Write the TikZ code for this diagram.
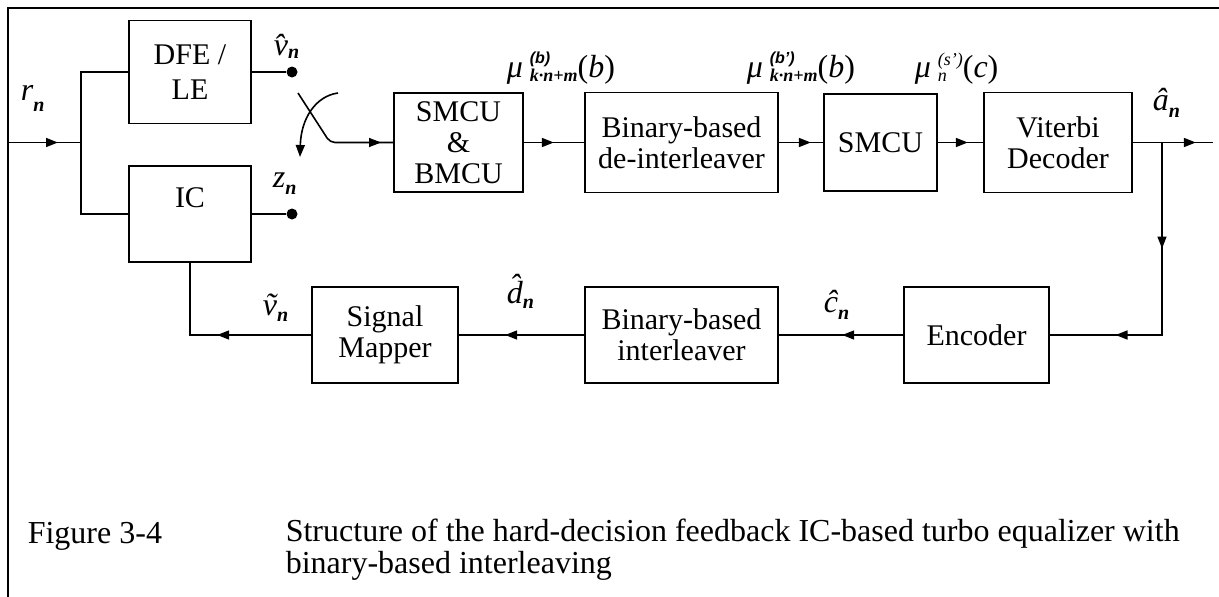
\documentclass[tikz,border=0pt]{standalone}
\usepackage{fontspec}
\setmainfont{Liberation Serif}
\setsansfont{Liberation Sans}
\usetikzlibrary{arrows.meta,decorations.markings}
\newcommand{\subn}[2][8pt]{\raisebox{-#1}{\fontsize{20}{20}\selectfont\bfseries\itshape #2}}
\newcommand{\labfont}{\fontsize{32}{32}\selectfont\itshape}
\newcommand{\smallsf}{\fontsize{16}{16}\selectfont\sffamily\bfseries}
\newcommand{\smallbi}{\fontsize{18}{18}\selectfont\bfseries\itshape}
\newcommand{\smalli}{\fontsize{18}{18}\selectfont\itshape}
\tikzset{
  blk/.style={draw, line width=1.6pt, inner sep=0pt, align=center, font=\fontsize{30}{31}\selectfont},
  lbl/.style={anchor=base west, inner sep=0pt, font=\labfont},
  captxt/.style={anchor=base west, inner sep=0pt, font=\fontsize{32}{32}\selectfont},
  dotnode/.style={circle, fill, inner sep=0pt, minimum size=11pt},
  tipA/.tip={Triangle[length=12pt,width=9pt]},
  mk/.style={postaction={decorate},decoration={markings,mark=at position #1 with {\arrow{tipA}}}},
  mktwo/.style 2 args={postaction={decorate},decoration={markings,
     mark=at position #1 with {\arrow{tipA}},
     mark=at position #2 with {\arrow{tipA}}}}
}
\begin{document}
\begin{tikzpicture}[x=1pt,y=-1pt,line width=1.6pt]
\useasboundingbox (0,0) rectangle (1219,597);
% frame
\draw[line width=2.2pt] (8,597) -- (8,8) -- (1219,8);

% blocks
\node[blk,minimum width=122pt,minimum height=103pt,font=\fontsize{30}{35}\selectfont] (dfe) at (190,72) {DFE /\\LE};
\node[blk,minimum width=122pt,minimum height=96pt] (ic) at (190,214) {};
\node[inner sep=0pt,font=\fontsize{30}{32}\selectfont] (iclbl) at (190,198) {IC};
\node[blk,minimum width=129pt,minimum height=99pt] (smcu1) at (458.5,142.5) {SMCU\\\&\\BMCU};
\node[blk,minimum width=193pt,minimum height=100pt] (deint) at (681.5,142.5) {Binary-based\\de-interleaver};
\node[blk,minimum width=113pt,minimum height=97pt] (smcu2) at (880.5,142.5) {SMCU};
\node[blk,minimum width=148pt,minimum height=100pt] (vit) at (1058,142.5) {Viterbi\\Decoder};
\node[blk,minimum width=146pt,minimum height=96pt] (map) at (385,335) {Signal\\Mapper};
\node[blk,minimum width=193pt,minimum height=96pt] (intl) at (681.5,335) {Binary-based\\interleaver};
\node[blk,minimum width=145pt,minimum height=96pt] (enc) at (976.5,335) {Encoder};

% dots and coordinates
\node[dotnode] (dv) at (292,72) {};
\node[dotnode] (dz) at (292,214) {};
\coordinate (in) at (8,142.5);
\coordinate (j1) at (81,142.5);
\coordinate (sw1) at (298,93);
\coordinate (sw2) at (330,142.5);
\coordinate (cA) at (338,93);
\coordinate (cB) at (300,157);
\coordinate (jr) at (1162,142.5);
\coordinate (out) at (1213,142.5);
\coordinate (cr) at (1162,335);
\coordinate (cl) at (184,335);

% connectors
\draw[mk=50pt] (in) -- (j1);
\draw (dfe.west) -| (j1) |- (ic.west);
\draw (dfe.east) -- (dv);
\draw (ic.east) -- (dz);
\draw[mk=109pt,rounded corners=5pt] (sw1) -- (sw2) -- (smcu1.west);
\draw[-tipA] (cA) .. controls (316,96) and (301,118) .. (cB);
\draw[mk=30pt] (smcu1.east) -- (deint.west);
\draw[mk=32pt] (deint.east) -- (smcu2.west);
\draw[mk=30pt] (smcu2.east) -- (vit.west);
\draw[mk=63pt] (vit.east) -- (out);
\draw[mktwo={106pt}{239pt}] (jr) |- (enc.east);
\draw[mk=61pt] (enc.west) -- (intl.east);
\draw[mk=79pt] (intl.west) -- (map.east);
\draw[mk=94pt] (map.west) -| (ic.south);

% labels
\node[lbl] (lr) at (20,100) {r\subn[11pt]{n}};
\node[lbl] (lv) at (273,55) {\^{v}\subn[3pt]{n}};
\node[lbl] (lz) at (272,187) {z\subn[7pt]{n}};
\node[lbl] (lm1) at (506,77) {\textit{μ}\hspace{7pt}\rlap{\raisebox{14pt}{\smallsf (b)}}\raisebox{-4pt}{\smallbi k·n+m}\upshape(\textit{b})};
\node[lbl] (lm2) at (746,77) {\textit{μ}\hspace{7pt}\rlap{\raisebox{14pt}{\smallsf (b')}}\raisebox{-4pt}{\smallbi k·n+m}\upshape(\textit{b})};
\node[lbl] (lm3) at (914,77) {\textit{μ}\hspace{7pt}\rlap{\raisebox{-4pt}{\smalli n}}\raisebox{12pt}{\smalli (s')}\upshape(\textit{c})};
\node[lbl] (la) at (1152,110) {\^{a}\subn[7pt]{n}};
\node[lbl] (lvt) at (262,315) {\~{v}\subn[6pt]{n}};
\node[lbl] (ld) at (506,303) {\^{d}\subn[5pt]{n}};
\node[lbl] (lc) at (823,312) {\^{c}\subn[7pt]{n}};

% caption
\node[captxt] (fig) at (27,543) {Figure 3-4};
\node[captxt] (cap1) at (285,541) {Structure of the hard-decision feedback IC-based turbo equalizer with};
\node[captxt] (cap2) at (285,573) {binary-based interleaving};
\end{tikzpicture}
\end{document}
